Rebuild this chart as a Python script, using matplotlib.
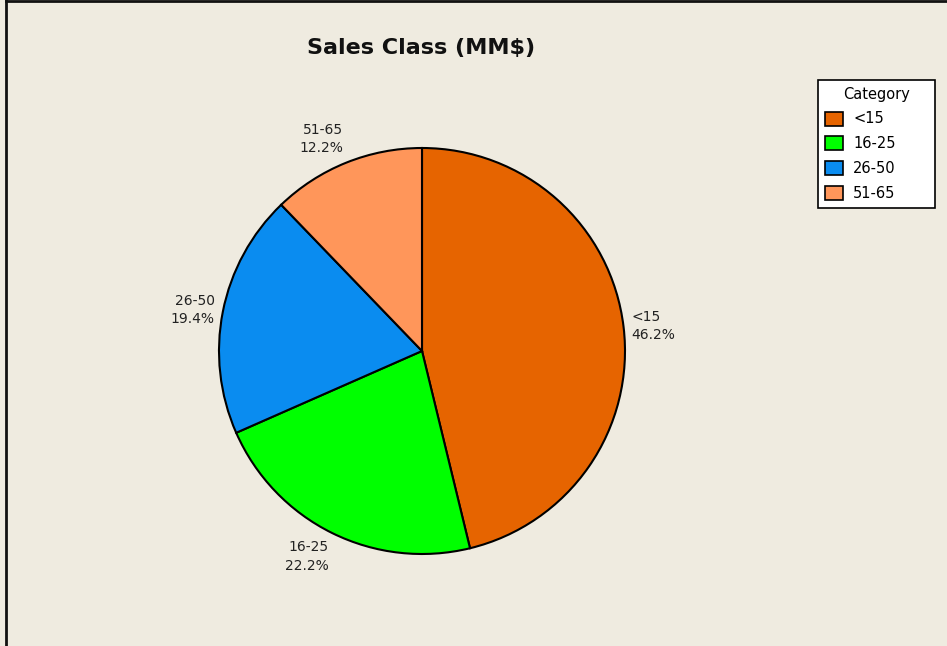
import matplotlib.pyplot as plt
from matplotlib.lines import Line2D
from matplotlib.patches import Patch

categories = ["<15", "16-25", "26-50", "51-65"]
percents = [46.2, 22.2, 19.4, 12.2]
colors = ["#E66400", "#00FF00", "#0A8CF0", "#FF965A"]
title = "Sales Class (MM$)"

bg = "#EFEBE0"
W, H = 947, 646

fig = plt.figure(figsize=(W / 100, H / 100), dpi=100, facecolor=bg)

# pie axes: centre (422, 351) px, radius ~203 px
cx, cy, r = 422, 351, 203
ax = fig.add_axes([(cx - r) / W, (H - cy - r) / H, 2 * r / W, 2 * r / H])
ax.set_facecolor("none")

labels = [f"{c}\n{p}%" for c, p in zip(categories, percents)]
wedges, texts = ax.pie(
    percents,
    labels=labels,
    colors=colors,
    startangle=90,
    counterclock=False,
    labeldistance=1.04,
    wedgeprops=dict(edgecolor="black", linewidth=1.5),
    textprops=dict(fontsize=10, color="#222222", linespacing=1.4),
)
# anchor labels by their nearest corner, like the original
for t in texts:
    x, y = t.get_position()
    if y > 0.6:
        t.set_va("bottom")
    elif y < -0.6:
        t.set_va("top")
ax.set_xlim(-1, 1)
ax.set_ylim(-1, 1)
ax.set_aspect("equal")
ax.axis("off")

fig.text(421 / W, 1 - 48 / H, title, ha="center", va="center",
         fontsize=16, fontweight="bold", color="#111111")

handles = [Patch(facecolor=c, edgecolor="black", linewidth=1.2) for c in colors]
leg = fig.legend(
    handles, categories, title="Category",
    loc="upper left", bbox_to_anchor=(818 / W, 1 - 206 / H, 117 / W, 126 / H),
    mode="expand",
    frameon=True, fancybox=False, edgecolor="black", facecolor="white",
    framealpha=1, fontsize=10.5, title_fontsize=10.5,
    handlelength=1.25, handleheight=1.1, handletextpad=0.7,
    labelspacing=0.68, borderpad=0.45, borderaxespad=0,
)
leg.get_frame().set_linewidth(1.2)

# window border (top and left edges)
fig.add_artist(Line2D([6 / W, 6 / W], [0, 1], color="#111111", lw=2,
                      transform=fig.transFigure))
fig.add_artist(Line2D([6 / W, 1], [1 - 1 / H, 1 - 1 / H], color="#111111",
                      lw=2, transform=fig.transFigure))

fig.savefig("out.png", dpi=100, facecolor=bg)
plt.close(fig)
